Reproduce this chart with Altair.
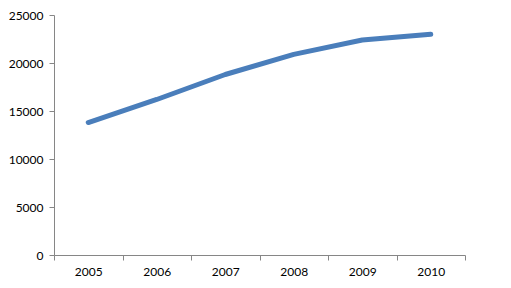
import altair as alt
import pandas as pd

years = ["2005", "2006", "2007", "2008", "2009", "2010"]
values = [13800, 16200, 18800, 20900, 22400, 23000]
y_ticks = [0, 5000, 10000, 15000, 20000, 25000]

df = pd.DataFrame({"year": years, "value": values})

axis_color = "#868686"
font = "Lato"

chart = alt.Chart(df).mark_line(
    color="#4A7EBB", strokeWidth=5, strokeCap="round", strokeJoin="round"
).encode(
    x=alt.X("year:N", sort=years,
            scale=alt.Scale(paddingInner=0, paddingOuter=0),
            axis=alt.Axis(title=None, labelAngle=0, tickBand="extent",
                          domainColor=axis_color, tickColor=axis_color,
                          tickSize=5, labelPadding=6, labelFont=font,
                          labelFontSize=12, labelColor="#000000", grid=False)),
    y=alt.Y("value:Q", scale=alt.Scale(domain=[0, 25000], nice=False),
            axis=alt.Axis(title=None, values=y_ticks, format="d",
                          domainColor=axis_color, tickColor=axis_color,
                          tickSize=5, labelPadding=6, labelFont=font,
                          labelFontSize=12, labelColor="#000000", grid=False)),
).properties(
    width=411, height=240,
    background="white",
    autosize=alt.AutoSizeParams(type="none"),
    padding={"left": 54, "top": 15, "right": 46, "bottom": 33},
).configure_view(stroke=None, strokeWidth=0)

chart.save("out.html", embed_options={"renderer": "svg", "actions": False})
